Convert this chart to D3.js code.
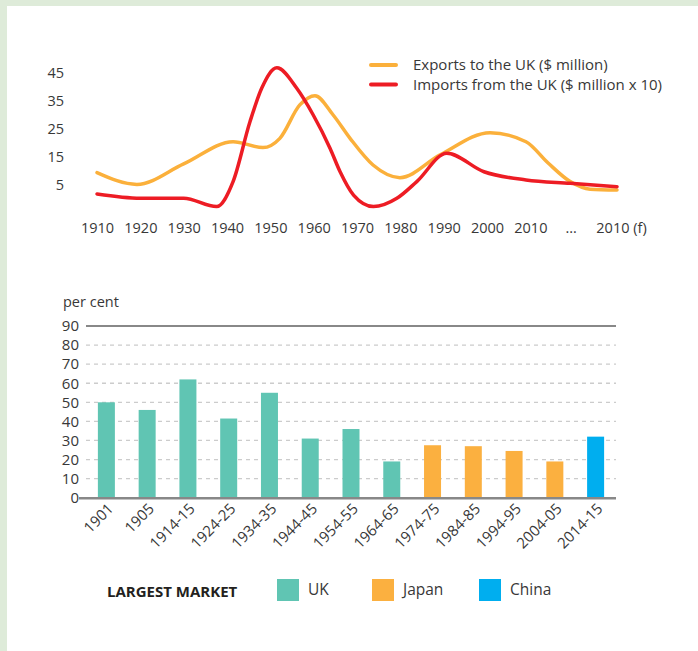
<!DOCTYPE html>
<html>
<head>
<meta charset="utf-8">
<script src="https://cdn.jsdelivr.net/npm/d3@7"></script>
<style>
  html, body { margin: 0; padding: 0; background: #fff; }
  svg { display: block; font-family: "Open Sans", "Noto Sans", sans-serif; }
</style>
</head>
<body>
<svg id="chart" width="698" height="651"></svg>
<script>
// ---------- Top chart data (x = period index: 0=1910 ... 10=2010, 11="…", 12="2010 (f)") ----------
const periodLabels = ["1910","1920","1930","1940","1950","1960","1970","1980","1990","2000","2010","…","2010 (f)"];
const lineTicks = [5, 15, 25, 35, 45];
const exportsX = [0, 0.92, 2, 3.14, 3.83, 4.22, 4.68, 5.03, 5.45, 5.84, 6.37, 6.99, 7.92, 9.07, 9.9, 10.41, 10.92, 11.38, 12];
const exportsY = [9.4, 5.2, 12.5, 20.4, 18.3, 21.6, 33.5, 36.8, 29.9, 21.6, 12.1, 7.6, 15.7, 23.6, 20.4, 12.8, 6.2, 3.5, 3.2];
const importsX = [0, 1, 2, 2.76, 3.14, 3.53, 3.8, 4.15, 4.61, 4.99, 5.38, 5.61, 5.92, 6.38, 6.92, 7.38, 8.07, 8.93, 9.9, 10.92, 12];
const importsY = [1.8, 0.3, 0.3, -2.7, 6.2, 27.5, 39.4, 46.7, 39.4, 29.9, 18, 9.7, 1.4, -2.7, 0.25, 6.2, 16.3, 9.7, 6.8, 5.6, 4.4];
const lineSeries = ["Exports to the UK ($ million)", "Imports from the UK ($ million x 10)"];

// ---------- Bottom chart data ----------
const barCategories = ["1901","1905","1914-15","1924-25","1934-35","1944-45","1954-55","1964-65","1974-75","1984-85","1994-95","2004-05","2014-15"];
const barValues = [50, 46, 62, 41.5, 55, 31, 36, 19, 27.5, 27, 24.5, 19, 32];
const barMarket = ["UK","UK","UK","UK","UK","UK","UK","UK","Japan","Japan","Japan","Japan","China"];
const markets = ["UK", "Japan", "China"];
const barTicks = [0,10,20,30,40,50,60,70,80,90];

const svg = d3.select("#chart");
const textColor = "#383838";
const fam = "'Open Sans', sans-serif";

// background frame
svg.append("rect").attr("width", 698).attr("height", 651).attr("fill", "#deebd9");
svg.append("rect").attr("x", 7).attr("y", 6).attr("width", 691).attr("height", 645).attr("fill", "#ffffff");

// ================= TOP LINE CHART =================
const xL = d3.scaleLinear().domain([0, 12]).range([97, 617]);
const yL = d3.scaleLinear().domain([0, 45]).range([199, 72.6]);

const gTop = svg.append("g");

// y axis
const yAxisL = d3.axisLeft(yL).tickValues(lineTicks).tickSize(0).tickPadding(0);
gTop.append("g").attr("transform", "translate(64,0)").call(yAxisL)
  .call(g => g.select(".domain").remove())
  .call(g => g.selectAll("text").attr("fill", textColor).style("font-size", "14.5px").style("font-family", fam));

// x axis
const xAxisL = d3.axisBottom(xL).tickValues(d3.range(periodLabels.length)).tickFormat(i => periodLabels[i]).tickSize(0).tickPadding(0);
gTop.append("g").attr("transform", "translate(0,223)").call(xAxisL)
  .call(g => g.select(".domain").remove())
  .call(g => g.selectAll("text").attr("fill", textColor).style("font-size", "14.5px").style("font-family", fam)
    .attr("dx", (d, i) => i === 12 ? 4 : (i === 11 ? -3 : 0)));

const lineGen = d3.line().x(d => xL(d[0])).y(d => yL(d[1])).curve(d3.curveMonotoneX);
const exportsData = exportsX.map((x, i) => [x, exportsY[i]]);
const importsData = importsX.map((x, i) => [x, importsY[i]]);
const lineColors = ["#fbb03b", "#ed1c24"];

gTop.append("path").datum(exportsData).attr("d", lineGen)
  .attr("fill", "none").attr("stroke", lineColors[0]).attr("stroke-width", 3.5).attr("stroke-linecap", "round").attr("stroke-linejoin", "round");
gTop.append("path").datum(importsData).attr("d", lineGen)
  .attr("fill", "none").attr("stroke", lineColors[1]).attr("stroke-width", 3.5).attr("stroke-linecap", "round").attr("stroke-linejoin", "round");

// legend
const legL = gTop.append("g");
lineSeries.forEach((name, i) => {
  const yy = 65 + i * 19.5;
  legL.append("line").attr("x1", 371).attr("x2", 396).attr("y1", yy).attr("y2", yy)
    .attr("stroke", lineColors[i]).attr("stroke-width", 4).attr("stroke-linecap", "round");
  legL.append("text").attr("x", 413).attr("y", yy).attr("dy", "0.35em")
    .attr("fill", textColor).style("font-size", "15px").text(name);
});

// ================= BOTTOM BAR CHART =================
const xB = d3.scaleBand().domain(barCategories).range([86, 616]).paddingInner(0.583).paddingOuter(0.2915);
const yB = d3.scaleLinear().domain([0, 90]).range([497.7, 326]);
const colorB = d3.scaleOrdinal().domain(markets).range(["#60c5b3", "#fbb040", "#00aeef"]);

const gBot = svg.append("g");

// per cent label
gBot.append("text").attr("x", 63).attr("y", 302).attr("dy", "0.35em")
  .attr("fill", textColor).style("font-size", "14.5px").text("per cent");

// dashed grid
gBot.selectAll("line.grid").data(barTicks.filter(t => t > 0 && t < 90)).enter().append("line")
  .attr("class", "grid")
  .attr("x1", 86).attr("x2", 616).attr("y1", d => yB(d)).attr("y2", d => yB(d))
  .attr("stroke", "#cccccc").attr("stroke-width", 1.3).attr("stroke-dasharray", "4,4");

// top solid line at 90
gBot.append("line").attr("x1", 86).attr("x2", 616).attr("y1", yB(90)).attr("y2", yB(90))
  .attr("stroke", "#888888").attr("stroke-width", 2);

// y axis labels
const yAxisB = d3.axisLeft(yB).tickValues(barTicks).tickSize(0).tickPadding(0);
gBot.append("g").attr("transform", "translate(79,0)").call(yAxisB)
  .call(g => g.select(".domain").remove())
  .call(g => g.selectAll("text").attr("fill", textColor).style("font-size", "15px").style("font-family", fam));

// bars
gBot.selectAll("rect.bar").data(barCategories).enter().append("rect")
  .attr("class", "bar")
  .attr("x", d => xB(d)).attr("width", xB.bandwidth())
  .attr("y", (d, i) => yB(barValues[i])).attr("height", (d, i) => yB(0) - yB(barValues[i]))
  .attr("fill", (d, i) => colorB(barMarket[i]));

// baseline
gBot.append("line").attr("x1", 79).attr("x2", 616).attr("y1", yB(0) + 0.5).attr("y2", yB(0) + 0.5)
  .attr("stroke", "#888888").attr("stroke-width", 2.5);

// x axis rotated labels
const xAxisB = d3.axisBottom(xB).tickSize(0).tickPadding(0);
gBot.append("g").attr("transform", "translate(0," + (yB(0)) + ")").call(xAxisB)
  .call(g => g.select(".domain").remove())
  .call(g => g.selectAll("text")
    .attr("fill", textColor).style("font-size", "15px").style("font-family", fam)
    .attr("text-anchor", "end").attr("dy", null).attr("y", 0)
    .attr("transform", "translate(8,12) rotate(-45)"));

// bottom legend
const legB = svg.append("g");
legB.append("text").attr("x", 107).attr("y", 592).attr("dy", "0.35em")
  .attr("fill", "#231f20").style("font-size", "15px").style("font-weight", "bold").text("LARGEST MARKET");
const legPos = [277, 372, 479];
markets.forEach((m, i) => {
  legB.append("rect").attr("x", legPos[i]).attr("y", 579).attr("width", 22).attr("height", 22).attr("fill", colorB(m));
  legB.append("text").attr("x", legPos[i] + 31).attr("y", 590).attr("dy", "0.35em")
    .attr("fill", textColor).style("font-size", "15.5px").text(m);
});
</script>
</body>
</html>
